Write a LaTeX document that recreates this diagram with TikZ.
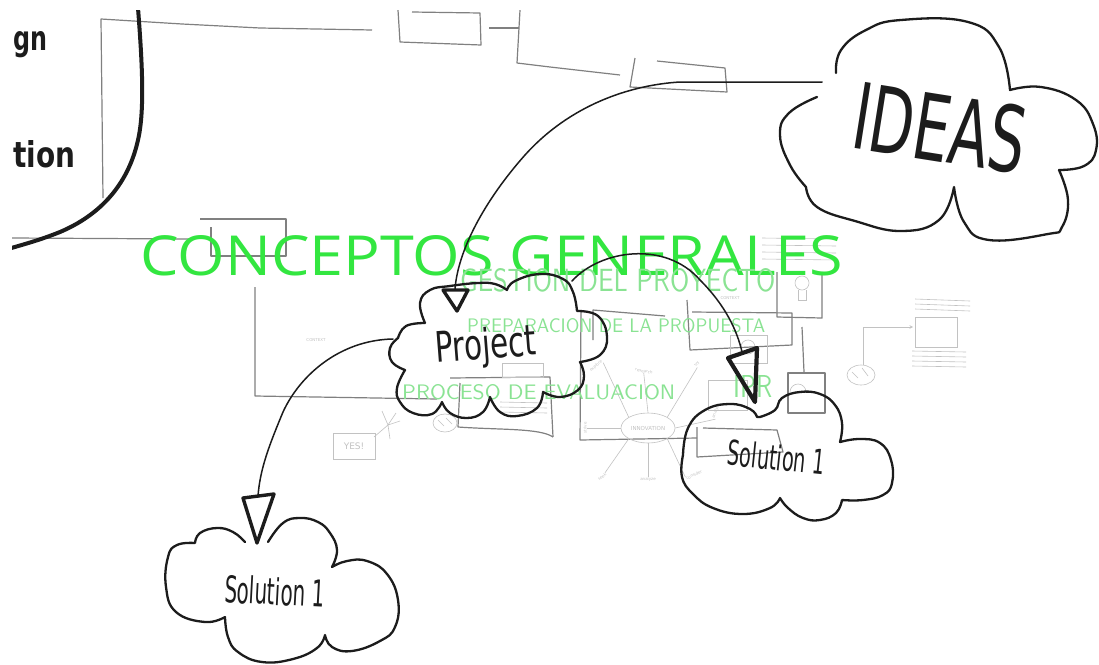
\documentclass[tikz,border=0pt]{standalone}
\usepackage{fontspec}
\setmainfont{DejaVu Sans}
\newfontfamily\titlefont{Open Sans}
\newfontfamily\handfont{DejaVu Sans}
\usetikzlibrary{shapes.geometric}
\definecolor{ink}{HTML}{1C1C1C}
\definecolor{gline}{HTML}{808080}
\definecolor{faintc}{HTML}{C2C2C2}
\definecolor{brightgreen}{HTML}{33E640}
\definecolor{lightgreen}{HTML}{8AE393}
\begin{document}
\begin{tikzpicture}[x=1pt,y=-1pt,
  cloudline/.style={draw=ink,line width=2.3pt,line join=round,line cap=round},
  conn/.style={draw=ink,line width=1.5pt,line cap=round},
  tri/.style={draw=ink,line width=3.4pt,line join=round},
  frame/.style={draw=gline,line width=1.2pt,line join=round},
  faint/.style={draw=faintc,line width=0.6pt},
  tiny/.style={text=faintc,font=\handfont\fontsize{4}{4}\selectfont,inner sep=0pt},
  hand/.style={text=ink,inner sep=0pt,anchor=base},
  greenA/.style={text=brightgreen,inner sep=0pt,anchor=base west},
  greenB/.style={text=lightgreen,inner sep=0pt,anchor=base west},
]
\fill[white] (0,0) rectangle (1099,664);
\useasboundingbox (0,0) rectangle (1099,664);
\clip (12,10) rectangle (1099,664);

% ---------- grey frame lines ----------
\draw[frame] (103,198) -- (101,19) -- (182,24) -- (260,28) -- (372,30);
\draw[frame] (412,12) -- (480,13) -- (481,45) -- (400,42) -- (398,10);
\draw[frame] (489,28) -- (519,28);
\draw[frame] (520,10) -- (517,63) -- (550,67) -- (620,75);
\draw[frame] (657,61) -- (725,68) -- (727,92) -- (630,87) -- (635,58);
\draw[frame] (12,238) -- (190,239);
\draw[frame] (200,219) -- (286,219) -- (286,256) -- (211,256) -- (211,227);
\draw[frame] (255,287) -- (255,396) -- (437,399);
\draw[frame] (450,378) -- (550,377) -- (553,437);
\draw[frame] (460,383) -- (458,427) .. controls (500,430) and (540,428) .. (553,437);
\draw[frame] (593,340) -- (593,310) -- (665,316);
\draw[frame] (581,312) -- (580,440) -- (697,438);
\draw[frame] (692,312) -- (792,313) -- (792,345) -- (690,350) -- (687,300);
\draw[frame] (697,427) -- (697,457) -- (783,452) -- (777,430) -- (703,428);
\draw[frame] (777,272) -- (777,317) -- (822,318) -- (822,272);
\draw[frame] (802,327) -- (804,372);
\draw[frame] (788,373) rectangle (825,413);

% ---------- faint sketches ----------
\draw[faint] (730,335) rectangle (767,363);
\draw[faint] (748,347) circle[radius=7pt];
\draw[faint] (708,380) rectangle (747,410);
\draw[faint] (502,363) rectangle (543,377);
\draw[faint] (802,283) circle[radius=7pt];
\draw[faint] (798,290) -- (798,300) -- (806,300) -- (806,290);
\draw[faint] (806,392) arc[start angle=0,end angle=180,radius=8pt];
\node[tiny] (ctx1) at (316,340) {CONTEXT};
\node[tiny] (ctx2) at (730,298) {CONTEXT};
\node[draw=faintc,line width=0.6pt,minimum width=42pt,minimum height=26pt,inner sep=0pt,
      text=faintc,font=\handfont\fontsize{9}{9}\selectfont] (yes) at (354,446) {YES!};
\coordinate (star) at (388,425);
\draw[faint] (star) -- ++(-14,12) (star) -- ++(8,-12) (star) -- ++(12,-4) (star) -- ++(-6,-14) (star) -- ++(2,14);
\draw[faint] (445,423) ellipse[x radius=12pt,y radius=9pt];
\draw[faint] (438,420) -- (444,426) (446,418) -- (452,424);
\draw[faint] (861,375) ellipse[x radius=14pt,y radius=10pt];
\draw[faint] (852,372) -- (858,378) (862,368) -- (868,376);
\coordinate (brainTop) at (863,365);
\coordinate (boxL) at (913,327);
\draw[faint,-stealth] (brainTop) -- (863,327) -- (boxL);
\draw[faint] (915,317) rectangle (957,347);
\foreach \yy in {299,304,309} \draw[faint] (915,\yy) -- (970,\yy+2);
\foreach \yy in {351,356,361,366} \draw[faint] (912,\yy) -- (966,\yy+1);
\foreach \yy in {238,245,252,259} \draw[faint] (762,\yy) -- (836,\yy+1);
\foreach \yy in {402,407,412} \draw[faint] (500,\yy) -- (547,\yy+1);

% innovation mind map
\node[ellipse,draw=faintc,line width=0.6pt,minimum width=54pt,minimum height=30pt,inner sep=0pt,
      text=faintc,font=\handfont\fontsize{5.5}{5.5}\selectfont] (innov) at (648,428) {INNOVATION};
\node[tiny,rotate=90] (strive) at (585,428) {strive};
\node[tiny,rotate=35] (seek) at (602,477) {seek};
\node[tiny] (analyzeB) at (648,479) {analyze};
\node[tiny,rotate=25] (consider) at (694,475) {consider};
\node[tiny,rotate=70] (analyzeA) at (716,411) {analyze};
\node[tiny,rotate=40] (explore) at (596,366) {explore};
\node[tiny,rotate=-10] (research) at (644,371) {research};
\node[tiny,rotate=60] (try) at (697,364) {try};
\draw[faint] (innov.west) -- (strive.south);
\draw[faint] (innov.south west) -- (seek.north east);
\draw[faint] (innov.south) -- (analyzeB.north);
\draw[faint] (innov.south east) -- (consider.north west);
\draw[faint] (innov.east) -- (analyzeA.south west);
\draw[faint] (innov.north west) -- (explore.south east);
\draw[faint] (innov.north) -- (research.south);
\draw[faint] (innov.north east) -- (try.south west);

% ---------- green titles ----------
\node[greenA] (title) at (140,275) {\resizebox{703pt}{40pt}{\titlefont CONCEPTOS GENERALES}};
\node[greenB] (gestion) at (460,291) {\resizebox{315pt}{23pt}{\sffamily GESTION DEL PROYECTO}};
\node[greenB] (prep) at (467,332) {\resizebox{298pt}{14pt}{\sffamily PREPARACION DE LA PROPUESTA}};
\node[greenB] (proc) at (402,399) {\resizebox{273pt}{15pt}{\sffamily PROCESO DE EVALUACION}};
\node[greenB] (ipr) at (733,397) {\resizebox{39pt}{22pt}{\sffamily IPR}};

% ---------- left big curve and cut words ----------
\draw[draw=ink,line width=4pt,line cap=round] (138,8) .. controls (142,60) and (145,110) .. (138,140)
  .. controls (128,185) and (100,215) .. (60,232) .. controls (40,240) and (25,244) .. (8,249);
\node[text=ink,inner sep=0pt,anchor=base west] (gn) at (13,50) {\resizebox{34pt}{19pt}{\handfont\bfseries gn}};
\node[text=ink,inner sep=0pt,anchor=base west] (tion) at (13,167) {\resizebox{62pt}{27pt}{\handfont\bfseries tion}};

% ---------- clouds ----------
\draw[cloudline]
  plot[smooth,tension=0.75] coordinates {(836,73)(841,50)(866,30)(901,20)(968,22)(999,47)(1010,90)}
  -- plot[smooth,tension=0.75] coordinates {(1010,90)(1041,87)(1076,100)(1093,124)(1096,150)(1084,166)(1059,170)}
  -- plot[smooth,tension=0.75] coordinates {(1059,170)(1068,200)(1062,227)(1048,234)(989,240)(964,222)(954,187)}
  -- plot[smooth,tension=0.75] coordinates {(954,187)(939,220)(901,231)(855,221)(817,207)(806,187)}
  -- plot[smooth,tension=0.75] coordinates {(806,187)(790,165)(780,135)(789,113)(817,97)};

\draw[cloudline]
  plot[smooth,tension=0.75] coordinates {(425,323)(420,303)(430,290)(450,286)(478,283)(495,284)(507,290)}
  -- plot[smooth,tension=0.75] coordinates {(507,290)(515,281)(540,274)(563,279)(573,292)(577,311)}
  -- plot[smooth,tension=0.75] coordinates {(577,311)(598,316)(607,337)(600,355)(580,362)}
  -- plot[smooth,tension=0.75] coordinates {(580,362)(584,376)(578,390)(560,397)(543,392)}
  -- plot[smooth,tension=0.75] coordinates {(543,392)(537,408)(517,416)(500,412)(490,397)}
  -- plot[smooth,tension=0.75] coordinates {(490,397)(483,412)(467,418)(450,413)(442,402)}
  -- plot[smooth,tension=0.75] coordinates {(442,402)(432,414)(413,413)(400,402)(397,388)(405,370)}
  -- plot[smooth,tension=0.75] coordinates {(405,370)(392,362)(390,348)(398,338)}
  -- plot[smooth,tension=0.75] coordinates {(398,338)(406,326)(425,323)};

\draw[cloudline]
  plot[smooth,tension=0.75] coordinates {(683,455)(688,428)(705,410)(730,404)(750,409)(757,417)}
  -- plot[smooth,tension=0.75] coordinates {(760,417)(775,410)(782,398)(800,392)(820,394)(835,405)(842,423)(840,442)}
  -- plot[smooth,tension=0.75] coordinates {(840,442)(860,439)(880,443)(891,460)(892,483)(883,495)(863,500)(842,500)}
  -- plot[smooth,tension=0.75] coordinates {(842,500)(836,513)(820,520)(803,518)(788,508)(780,498)}
  -- plot[smooth,tension=0.75] coordinates {(780,498)(770,508)(743,514)(713,508)(693,494)(682,477)(683,455)};

\draw[cloudline]
  plot[smooth,tension=0.75] coordinates {(245,542)(233,532)(217,528)(200,533)(195,543)}
  -- plot[smooth,tension=0.75] coordinates {(195,543)(177,545)(168,557)(166,587)(176,612)(205,622)(225,617)}
  -- plot[smooth,tension=0.75] coordinates {(225,617)(228,637)(238,652)(262,662)(293,659)(317,648)(325,635)}
  -- plot[smooth,tension=0.75] coordinates {(325,635)(332,647)(352,651)(380,641)(395,627)(398,600)(387,574)(367,561)(347,561)(332,567)}
  -- plot[smooth,tension=0.75] coordinates {(332,567)(337,550)(330,533)(318,522)(300,518)(283,523)(268,542)};

% ---------- cloud labels ----------
\node[hand,rotate=-9] (ideas) at (935,161) {\resizebox{174pt}{68pt}{\handfont IDEAS}};
\node[hand,rotate=4.5] (project) at (487,359) {\resizebox{101pt}{32pt}{\handfont Project}};
\node[hand,rotate=-6] (solR) at (775,470) {\resizebox{97pt}{26pt}{\handfont Solution 1}};
\node[hand,rotate=-3] (solL) at (274,605) {\resizebox{100pt}{28pt}{\handfont Solution 1}};

% ---------- connectors ----------
\coordinate (ideasIn) at (822,82);
\coordinate (projTop) at (455,289);
\coordinate (projR) at (572,281);
\coordinate (solRTop) at (742,352);
\coordinate (projL) at (393,339);
\coordinate (solLTop) at (258,496);
\draw[conn] (ideasIn) -- (680,82) .. controls (630,85) and (570,105) .. (525,155)
  .. controls (485,200) and (458,250) .. (projTop);
\draw[tri] (443,290) -- (468,290) -- (457,311) -- cycle;
\draw[conn] (projR) .. controls (600,250) and (665,240) .. (700,280)
  .. controls (725,305) and (737,330) .. (solRTop);
\draw[tri,line width=4.2pt] (728,358) -- (757,348) -- (755,402) -- cycle;
\draw[conn] (projL) .. controls (340,340) and (300,375) .. (283,412)
  .. controls (268,448) and (260,470) .. (solLTop);
\draw[tri] (243,498) -- (274,494) -- (257,543) -- cycle;
\end{tikzpicture}
\end{document}
